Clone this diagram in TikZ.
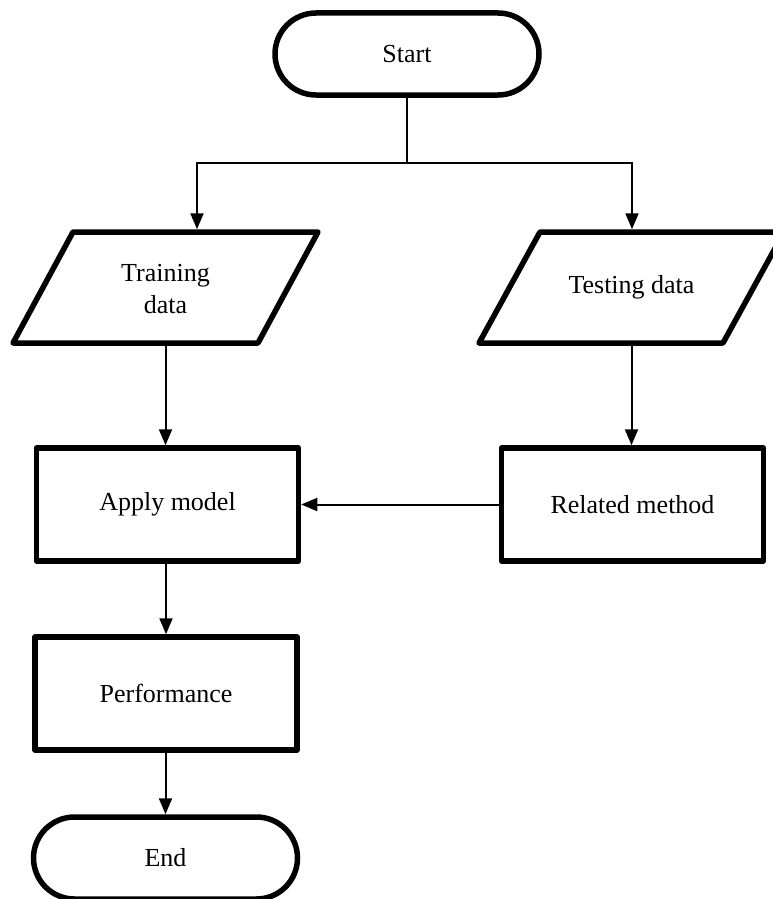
\documentclass[tikz,border=0pt]{standalone}
\usepackage{fontspec}
\setmainfont{Liberation Serif}
\usetikzlibrary{arrows.meta}
\begin{document}
\begin{tikzpicture}[x=1pt,y=-1pt,
  every node/.style={font=\fontsize{26}{32}\selectfont},
  terminal/.style={draw, line width=5.5pt, rounded corners=41pt,
    minimum width=264pt, minimum height=82pt, inner sep=0pt},
  procbox/.style={draw, line width=5.5pt, line join=round,
    minimum width=262pt, minimum height=113pt, inner sep=0pt},
  iobox/.style={draw, line width=5.5pt, line join=round},
  iotext/.style={minimum width=180pt, minimum height=111pt,
    inner sep=0pt, outer sep=2.75pt, align=center},
  plain/.style={line width=2pt},
  link/.style={line width=2pt, -{Triangle[length=16pt,width=13pt]}}
]
\useasboundingbox (0,0) rectangle (773,899);

% terminals
\node[terminal] (start) at (407,54) {Start};
\node[terminal] (end) at (165.5,858) {End};

% input/output data
\draw[iobox] (73,232) -- (318,232) -- (258,343) -- (13,343) -- cycle;
\node[iotext] (train) at (165.5,289) {Training\\data};
\draw[iobox] (540,232) -- (784,232) -- (723,343) -- (479,343) -- cycle;
\node[iotext] (test) at (631.5,287.5) {Testing data};

% processes
\node[procbox] (apply) at (167.5,504.5) {Apply model};
\node[procbox] (related) at (632.5,504.5) {Related method};
\node[procbox] (perf) at (166,693.5) {Performance};

% connectors
\coordinate (bus) at (407,163);
\coordinate (trainin) at (197,229.25);
\coordinate (testin) at (632,229.25);
\coordinate (trainout) at (165.5,345.75);
\draw[plain] (start.south) -- (bus);
\draw[link] (bus) -| (trainin);
\draw[link] (bus) -| (testin);
\draw[link] (trainout) -- (trainout |- apply.north);
\draw[link] (test.south) -- (test.south |- related.north);
\draw[link] (related.west) -- (apply.east);
\draw[link] (apply.south -| perf.north) -- (perf.north);
\draw[link] (perf.south) -- (perf.south -| end.north) -- (end.north);
\end{tikzpicture}
\end{document}
